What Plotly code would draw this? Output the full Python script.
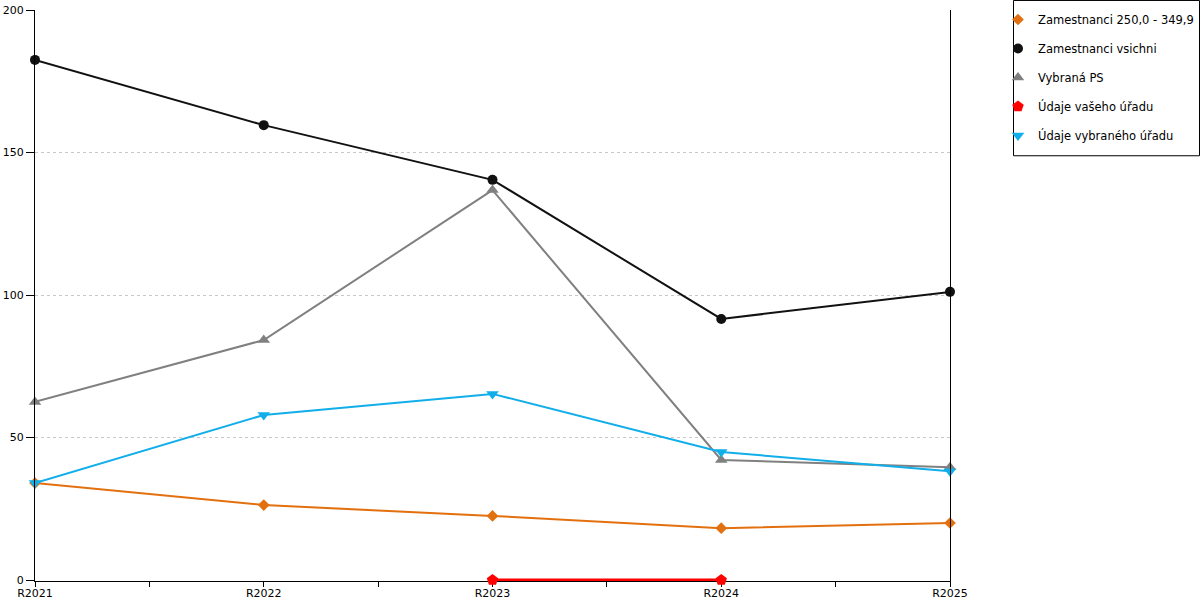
import plotly.graph_objects as go

roky = ["R2021", "R2022", "R2023", "R2024", "R2025"]
zam_250 = [34.0, 26.3, 22.5, 18.2, 20.0]
zam_vsichni = [182.5, 159.6, 140.4, 91.6, 101.1]
vybrana_ps = [62.5, 84.2, 136.8, 42.1, 39.6]
vas_urad = [None, None, 0, 0, None]
vybrany_urad = [34.0, 57.9, 65.3, 44.9, 38.2]

serie = [
    ("Zamestnanci 250,0 - 349,9", zam_250, "#E3700F", "diamond", 9, 2),
    ("Zamestnanci vsichni", zam_vsichni, "#111111", "circle", 10, 2),
    ("Vybraná PS", vybrana_ps, "#808080", "triangle-up", 11, 2),
    ("Údaje vašeho úřadu", vas_urad, "#FF0000", "pentagon", 12, 3),
    ("Údaje vybraného úřadu", vybrany_urad, "#12AEEA", "triangle-down", 11, 2),
]

x = list(range(len(roky)))

fig = go.Figure()
for i, (jmeno, hodnoty, barva, symbol, vel, sirka) in enumerate(serie):
    fig.add_trace(go.Scatter(
        x=x, y=hodnoty, mode="lines+markers", name=jmeno,
        line=dict(color=barva, width=sirka),
        marker=dict(color=barva, symbol=symbol, size=vel),
        showlegend=False, cliponaxis=False,
    ))
# legenda jen se znackami
for i, (jmeno, hodnoty, barva, symbol, vel, sirka) in enumerate(serie):
    fig.add_trace(go.Scatter(
        x=[None], y=[None], mode="markers", name=jmeno,
        marker=dict(color=barva, symbol=symbol, size=vel),
        legendgroup=str(i),
    ))

# ramecek legendy zvlast (plotly ma velky odsazeni textu)
L, R, T, B = 35, 950, 10, 580
fig.add_shape(
    type="rect", xref="paper", yref="paper",
    x0=(1013.5 - L) / (R - L), x1=(1199.5 - L) / (R - L),
    y0=(B - 155.5) / (B - T), y1=(B - 0.5) / (B - T),
    line=dict(color="black", width=1), fillcolor="rgba(0,0,0,0)",
)

fig.update_layout(
    width=1200, height=600,
    margin=dict(l=L, r=1200 - R, t=T, b=600 - B - 1, autoexpand=False),
    plot_bgcolor="white", paper_bgcolor="white",
    font=dict(family="DejaVu Sans", size=12, color="black"),
    legend=dict(
        xref="container", yref="container",
        x=998 / 1200, y=1 - 5 / 600, xanchor="left", yanchor="top",
        bgcolor="rgba(0,0,0,0)", borderwidth=0,
        traceorder="grouped", tracegroupgap=10,
        font=dict(size=11.5), itemwidth=30,
    ),
)
fig.update_xaxes(
    range=[0, 4], tickvals=x, ticktext=roky,
    showgrid=False, zeroline=False, automargin=False,
    showline=True, linecolor="black", linewidth=1, layer="below traces",
    ticks="outside", ticklen=5, tickcolor="black", ticklabelstandoff=-3,
    minor=dict(dtick=0.5, tick0=0, ticks="outside", ticklen=5, tickcolor="black"),
    tickfont=dict(size=11),
)
fig.update_yaxes(
    range=[-0.35, 200], tickvals=[0, 50, 100, 150, 200], automargin=False,
    showgrid=True, gridcolor="#C8C8C8", griddash="dot", gridwidth=1,
    zeroline=False,
    showline=True, linecolor="black", linewidth=1, mirror=True,
    ticks="outside", ticklen=8, tickcolor="black",
    tickfont=dict(size=11),
)

# bez okraje stranky, aby graf zacinal v rohu okna
fig.write_html("out.html", config={"displayModeBar": False},
               post_script="document.body.style.margin='0';")
